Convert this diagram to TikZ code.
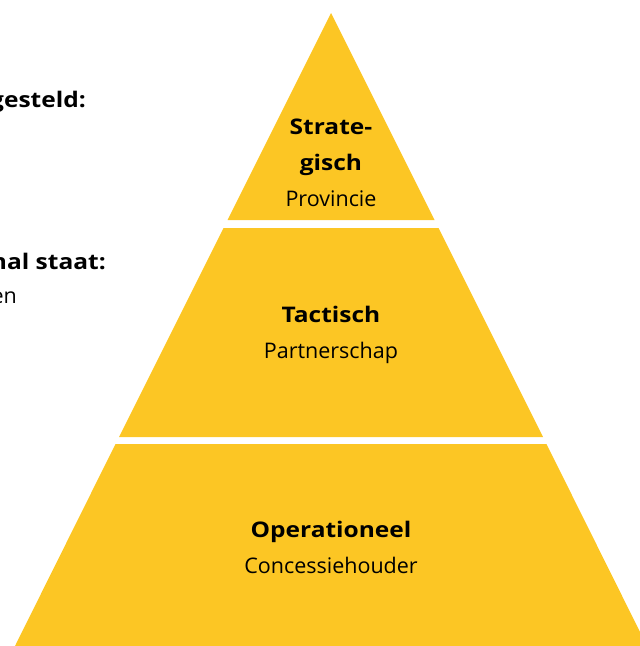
\documentclass[tikz,border=0pt]{standalone}
\usepackage{fontspec}
\setmainfont{Open Sans}[BoldFeatures = {FakeStretch = 1.14}]
\usepackage{tikz}
\usetikzlibrary{positioning}
\definecolor{pyryellow}{RGB}{252,198,36}

\begin{document}
\begin{tikzpicture}[x = 1pt, y = -1pt,
  tier/.style = {fill = pyryellow, draw = none},
  lbl/.style = {align = center, inner sep = 0pt, anchor = base, font = \fontsize{21.5}{36}\selectfont},
  side/.style = {inner sep = 0pt, anchor = base east, font = \fontsize{21.5}{36}\selectfont}]
\useasboundingbox (0,0) rectangle (640,646);
% pyramid, one triangle cut in three
\fill[tier] (331,13) -- (434.5,220) -- (227.5,220) -- cycle;
\fill[tier] (223.5,228) -- (438.5,228) -- (543,437) -- (119,437) -- cycle;
\fill[tier] (115.5,444) -- (546.5,444) -- (647,646) -- (15,646) -- cycle;
% labels (anchor on the last line)
\node[lbl] (strat) at (331,206) {\textbf{Strate-}\\\textbf{gisch}\\Provincie};
\node[lbl] (tact) at (331,358) {\textbf{Tactisch}\\Partnerschap};
\node[lbl] (oper) at (331,573) {\textbf{Operationeel}\\Concessiehouder};
% text cut off at the left
\node[side] (gest) at (86,107) {\textbf{gesteld:}};
\node[side] (staat) at (106,269) {\textbf{nal staat:}};
\node[side] (en) at (17,303) {en};
\end{tikzpicture}
\end{document}
